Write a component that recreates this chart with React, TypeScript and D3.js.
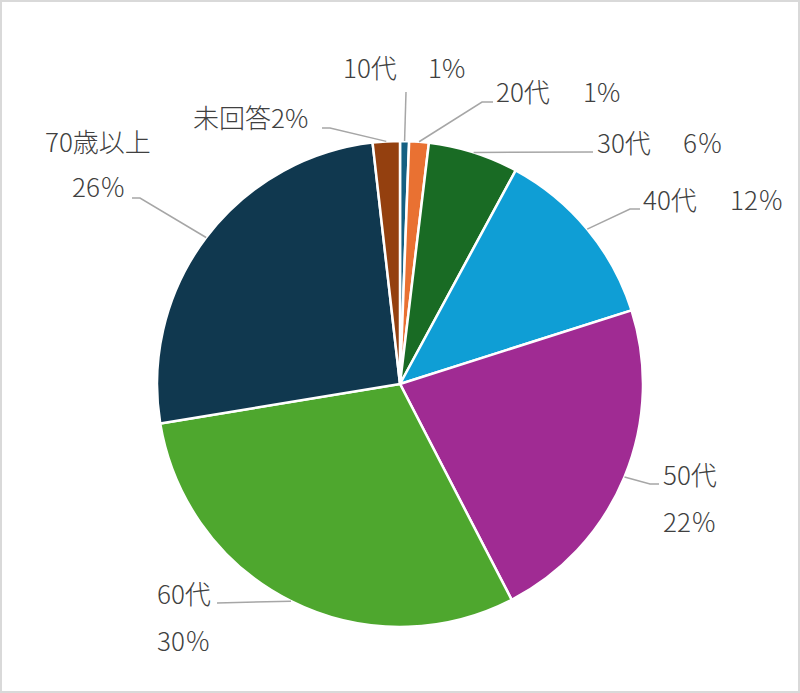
import React from "react";
import * as d3 from "d3";

// age groups, clockwise from 12 o'clock
const categories = ["10代", "20代", "30代", "40代", "50代", "60代", "70歳以上", "未回答"];
const values = [0.6, 1.3, 6.0, 12.2, 22.3, 30.0, 25.8, 1.8];
const percentLabels = ["1%", "1%", "6％", "12％", "22％", "30％", "26％", "2%"];
const colors = ["#156082", "#E97132", "#196B24", "#0F9ED5", "#A02B93", "#4EA72E", "#10384F", "#94400F"];

// label placement (text lines + leader elbows), as in the original
const labelLayout: { lines: { text: string; x: number; y: number }[]; elbow: [number, number][] }[] = [
  { lines: [{ text: categories[0], x: 343, y: 78 }, { text: percentLabels[0], x: 428, y: 78 }], elbow: [[406, 92]] },
  { lines: [{ text: categories[1], x: 496, y: 102 }, { text: percentLabels[1], x: 583, y: 102 }], elbow: [[482, 102], [493, 102]] },
  { lines: [{ text: categories[2], x: 597, y: 153 }, { text: percentLabels[2], x: 683, y: 153 }], elbow: [[593, 152]] },
  { lines: [{ text: categories[3], x: 643, y: 210 }, { text: percentLabels[3], x: 730, y: 210 }], elbow: [[630, 209], [640, 209]] },
  { lines: [{ text: categories[4], x: 663, y: 485 }, { text: percentLabels[4], x: 663, y: 532 }], elbow: [[650, 484], [659, 484]] },
  { lines: [{ text: categories[5], x: 157, y: 604 }, { text: percentLabels[5], x: 157, y: 651 }], elbow: [[217, 603]] },
  { lines: [{ text: categories[6], x: 45, y: 152 }, { text: percentLabels[6], x: 72, y: 197 }], elbow: [[140, 198], [132, 198]] },
  { lines: [{ text: categories[7] + percentLabels[7], x: 193, y: 128 }], elbow: [[330, 128], [322, 128]] },
];

const W = 800;
const H = 693;
const cx = 400;
const cy = 384;
const radius = 243;

export default function App() {
  const pie = d3
    .pie<number>()
    .sort(null)
    .value((d) => d);
  const arcs = pie(values);
  const arc = d3.arc<d3.PieArcDatum<number>>().innerRadius(0).outerRadius(radius);
  // zero-width ring on the rim: centroid gives the leader start point
  const rim = d3.arc<d3.PieArcDatum<number>>().innerRadius(radius).outerRadius(radius);
  const line = d3.line();

  return (
    <div style={{ position: "absolute", left: 0, top: 0, width: W, height: H }}>
      <svg width={W} height={H} style={{ display: "block" }}>
        <rect x={1} y={1} width={W - 2} height={H - 2} fill="#fff" stroke="#d9d9d9" strokeWidth={2} />
        <g transform={`translate(${cx},${cy})`}>
          {arcs.map((a, i) => (
            <path key={i} d={arc(a) || ""} fill={colors[i]} stroke="#fff" strokeWidth={2.5} />
          ))}
        </g>
        {arcs.map((a, i) => {
          const [px, py] = rim.centroid(a);
          const pts: [number, number][] = [[cx + px, cy + py], ...labelLayout[i].elbow];
          return (
            <path key={i} d={line(pts) || ""} fill="none" stroke="#a6a6a6" strokeWidth={1.5} />
          );
        })}
        <g fontFamily="'Noto Sans CJK JP', 'Noto Sans', sans-serif" fontSize={26} fontWeight={300} fill="#404040">
          {labelLayout.map((l, i) =>
            l.lines.map((t, j) => (
              <text key={`${i}-${j}`} x={t.x} y={t.y}>
                {t.text}
              </text>
            ))
          )}
        </g>
      </svg>
    </div>
  );
}
